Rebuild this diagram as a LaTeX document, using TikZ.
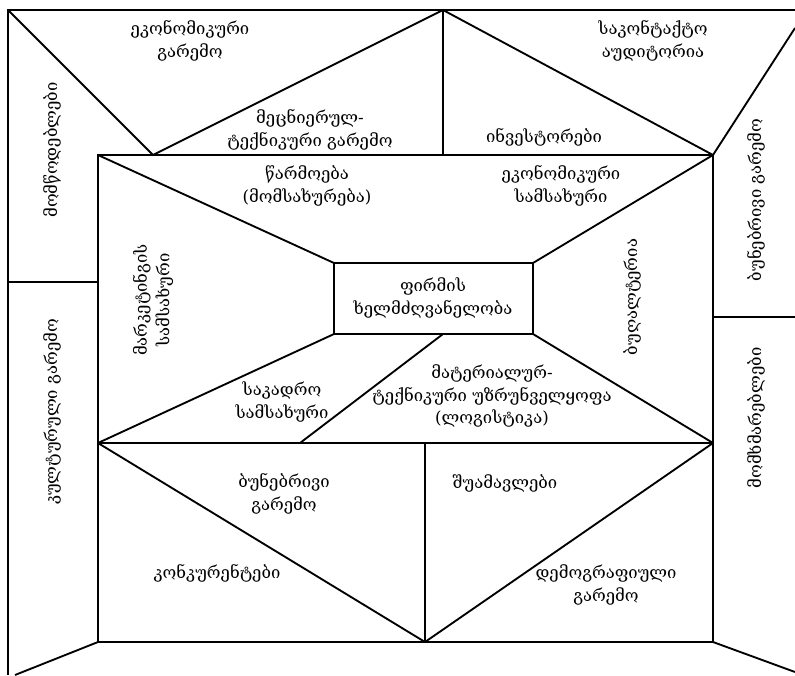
\documentclass[tikz,border=0pt]{standalone}
\usepackage{fontspec}
\setmainfont{DejaVu Serif}
\begin{document}
\begin{tikzpicture}[x=0.75pt,y=-0.75pt,line width=1.4pt,
  lbl/.style={align=center,font=\fontsize{12.5}{17}\selectfont,inner sep=1pt},
  vlbl/.style={lbl,rotate=90}]
\useasboundingbox (0,0) rectangle (795,675);
% corners
\coordinate (TL) at (8,10);
\coordinate (TR) at (795,10);
\coordinate (BLo) at (8,675);
\coordinate (A) at (98,155);
\coordinate (B) at (713,155);
\coordinate (C) at (713,642);
\coordinate (D) at (98,642);
\coordinate (Tm) at (443,10);
\coordinate (T1) at (153,155);
\coordinate (Ti) at (443,155);
\coordinate (R1) at (795,28);
\coordinate (ML) at (98,443);
\coordinate (MR) at (713,443);
\coordinate (c1) at (334,263);
\coordinate (c2) at (533,263);
\coordinate (c3) at (533,334);
\coordinate (c4) at (334,334);
\coordinate (m1) at (443,334);
\coordinate (m2) at (300,443);
\coordinate (b1) at (425,443);
\coordinate (b2) at (425,642);
\coordinate (LH) at (8,282);
\coordinate (LH2) at (98,282);
\coordinate (RH) at (713,317);
\coordinate (RH2) at (795,317);
\coordinate (BLx) at (15,675);
\coordinate (BRx) at (795,672);
% lines
\draw (BLo) -- (TL) -- (TR);
\draw (TL) -- (T1) -- (Tm) -- (B) -- (R1);
\draw (Tm) -- (Ti);
\draw (A) rectangle (C);
\draw (LH) -- (LH2);
\draw (RH) -- (RH2);
\draw (A) -- (c1);
\draw (B) -- (c2);
\draw (c4) -- (ML);
\draw (c3) -- (MR);
\draw (c1) rectangle (c3);
\draw (m1) -- (m2);
\draw (ML) -- (MR);
\draw (ML) -- (b2) -- (MR);
\draw (b1) -- (b2);
\draw (D) -- (BLx);
\draw (C) -- (BRx);
% labels
\node[lbl] (econ) at (190,41) {ეკონომიკური\\გარემო};
\node[lbl] (sci) at (310,130) {მეცნიერულ-\\ტექნიკური გარემო};
\node[lbl] (aud) at (653,41) {საკონტაქტო\\აუდიტორია};
\node[lbl] (inv) at (544,137) {ინვესტორები};
\node[vlbl] (supp) at (52,150) {მომწოდებლები};
\node[vlbl] (cult) at (52,412) {კულტურული გარემო};
\node[vlbl] (nat1) at (756,200) {ბუნებრივი გარემო};
\node[vlbl] (cons) at (756,418) {მომხმარებლები};
\node[vlbl] (mkt) at (153,300) {მარკეტინგის\\სამსახური};
\node[vlbl] (acc) at (632,297) {ბუღალტერია};
\node[lbl] (prod) at (307,186) {წარმოება\\(მომსახურება)};
\node[lbl] (ecs) at (561,186) {ეკონომიკური\\სამსახური};
\node[lbl] (mgmt) at (433,298) {ფირმის\\ხელმძღვანელობა};
\node[lbl] (hr) at (282,402) {საკადრო\\სამსახური};
\node[lbl] (log) at (492,396) {მატერიალურ-\\ტექნიკური უზრუნველყოფა\\(ლოგისტიკა)};
\node[lbl] (nat2) at (284,494) {ბუნებრივი\\გარემო};
\node[lbl] (comp) at (217,573) {კონკურენტები};
\node[lbl] (inter) at (505,483) {შუამავლები};
\node[lbl] (demo) at (606,585) {დემოგრაფიული\\გარემო};
\end{tikzpicture}
\end{document}
